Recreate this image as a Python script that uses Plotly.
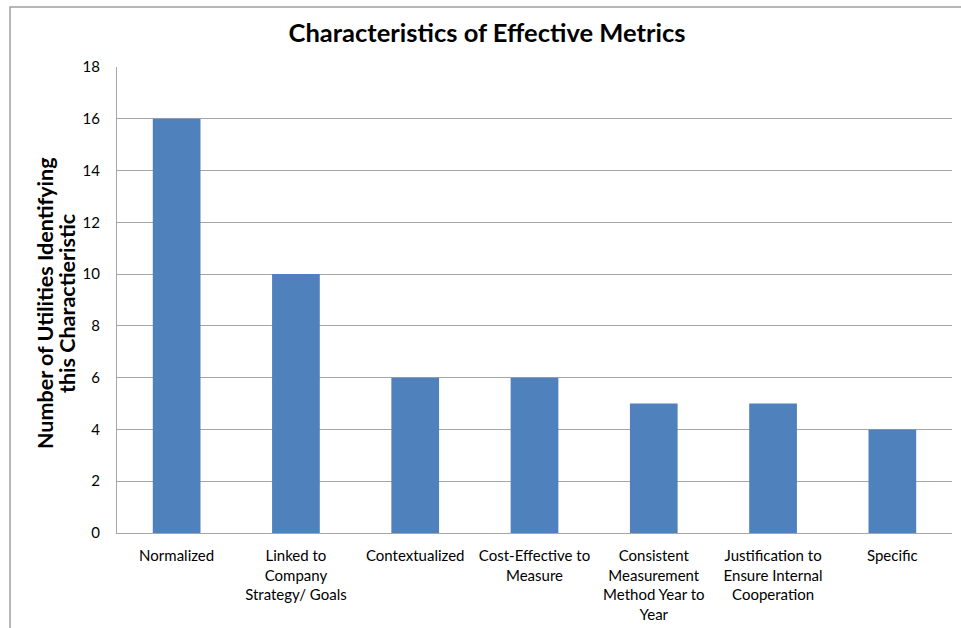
import plotly.graph_objects as go

# Chart data
categories = [
    "Normalized",
    "Linked to<br>Company<br>Strategy/ Goals",
    "Contextualized",
    "Cost-Effective to<br>Measure",
    "Consistent<br>Measurement<br>Method Year to<br>Year",
    "Justification to<br>Ensure Internal<br>Cooperation",
    "Specific",
]
counts = [16, 10, 6, 6, 5, 5, 4]
y_ticks = [0, 2, 4, 6, 8, 10, 12, 14, 16, 18]
y_title_lines = ["Number of Utilities Identifying", "this Charactieristic"]

FONT = "Lato"
BAR_COLOR = "#4F81BD"
GRID_COLOR = "#A6A6A6"

fig = go.Figure(
    go.Bar(
        x=categories,
        y=counts,
        marker=dict(color=BAR_COLOR, line=dict(width=0)),
        width=0.4,
        hoverinfo="x+y",
    )
)

W, H = 961, 628
L, R, T, B = 117, 9, 67, 95
plot_w = W - L - R
plot_h = H - T - B


def px_to_paper_x(px):
    return (px - L) / plot_w


def px_to_paper_y(py):
    return 1 - (py - T) / plot_h


# chart-area frame drawn in paper coordinates
fx0 = px_to_paper_x(10)
fy1 = px_to_paper_y(7)

# two-line rotated y-axis title with tighter line spacing
title_annotations = []
for line_text, cx in zip(y_title_lines, [45, 67]):
    title_annotations.append(
        dict(
            text=f"<b>{line_text}</b>",
            xref="paper",
            yref="paper",
            x=px_to_paper_x(cx),
            y=px_to_paper_y(303),
            xanchor="center",
            yanchor="middle",
            textangle=-90,
            showarrow=False,
            font=dict(family=FONT, size=21.5, color="#000000"),
        )
    )

fig.update_layout(
    width=W,
    height=H,
    margin=dict(l=L, r=R, t=T, b=B, autoexpand=False),
    paper_bgcolor="white",
    plot_bgcolor="white",
    showlegend=False,
    font=dict(family=FONT, size=15, color="#000000"),
    title=dict(
        text="<b>Characteristics of Effective Metrics</b>",
        x=487 / W,
        xanchor="center",
        xref="container",
        y=1 - 33 / H,
        yanchor="middle",
        yref="container",
        font=dict(family=FONT, size=25.5, color="#000000"),
    ),
    xaxis=dict(
        type="category",
        automargin=False,
        showgrid=False,
        showline=True,
        linecolor=GRID_COLOR,
        linewidth=1,
        ticks="",
        tickangle=0,
        tickfont=dict(family=FONT, size=15, color="#000000"),
        ticklabelstandoff=9,
        zeroline=False,
    ),
    yaxis=dict(
        range=[0, 18],
        tickvals=y_ticks,
        automargin=False,
        showgrid=True,
        gridcolor=GRID_COLOR,
        gridwidth=1,
        showline=True,
        linecolor=GRID_COLOR,
        linewidth=1,
        ticks="",
        zeroline=False,
        tickfont=dict(family=FONT, size=15, color="#000000"),
        ticklabelstandoff=13,
    ),
    annotations=title_annotations,
    shapes=[
        dict(
            type="rect",
            xref="paper",
            yref="paper",
            x0=fx0,
            x1=1.2,
            y0=-0.5,
            y1=fy1,
            line=dict(color="#A0A0A0", width=1.5),
            fillcolor="rgba(0,0,0,0)",
            layer="below",
        )
    ],
)

fig.write_html("out.html")
